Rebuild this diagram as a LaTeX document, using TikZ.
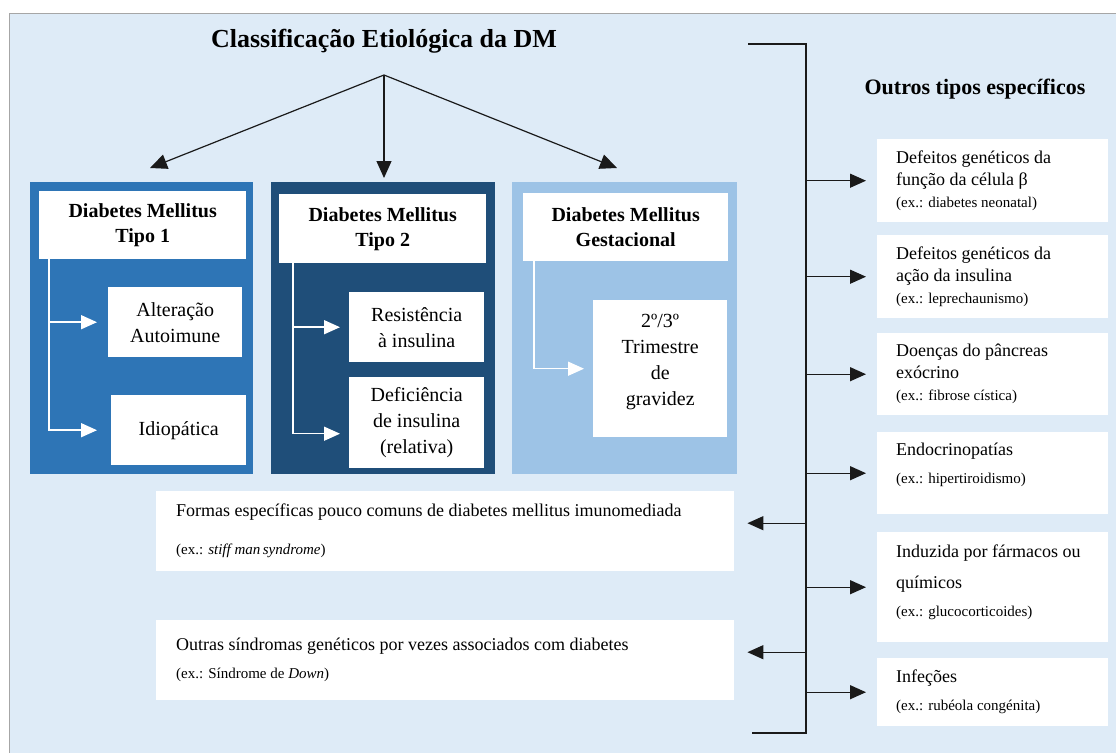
\documentclass[tikz,border=0pt]{standalone}
\usepackage{fontspec}
\setmainfont{Liberation Serif}
\usetikzlibrary{arrows.meta}

\definecolor{pagebg}{HTML}{DEEBF7}
\definecolor{frameline}{HTML}{A6A6A6}
\definecolor{typeone}{HTML}{2E75B6}
\definecolor{typetwo}{HTML}{1F4E79}
\definecolor{gestblue}{HTML}{9DC3E6}
\definecolor{ink}{HTML}{1A1A1A}

\newcommand{\txtmain}{\fontsize{18}{22}\selectfont}
\newcommand{\txtex}{\fontsize{15}{18}\selectfont}
\newcommand{\txtsub}{\fontsize{20}{26}\selectfont}
\newcommand{\txthead}{\fontsize{20}{25}\selectfont\bfseries}

\tikzset{
  panel/.style={draw=none, inner sep=0pt, anchor=north west},
  card/.style={fill=white, draw=none, inner sep=0pt, anchor=north west},
  headcard/.style={card, align=center, font=\txthead},
  subcard/.style={card, align=center, font=\txtsub},
  cardtext/.style={anchor=west, align=left, inner sep=0pt, font=\txtmain},
  blackarrow/.style={draw=ink, line width=1.3pt, -{Triangle[length=16pt,width=14pt]}},
  toparrow/.style={draw=ink, line width=1.2pt, -{Triangle[length=17pt,width=15pt]}},
  whitearrow/.style={draw=white, line width=1.5pt, -{Triangle[length=16pt,width=14pt]}},
  spine/.style={draw=ink, line width=1.3pt},
}

\begin{document}
\begin{tikzpicture}[x=1pt,y=-1pt]
\useasboundingbox (0,0) rectangle (1116,753);

% page frame
\fill[pagebg] (9,13) rectangle (1116,753);
\draw[frameline, line width=1.5pt] (1116,13.5) -- (9.5,13.5) -- (9.5,753);

% title and the three main branches
\node[font=\fontsize{26}{30}\selectfont\bfseries] (title) at (384,41) {Classificação Etiológica da DM};
\coordinate (fork) at (384,75);
\coordinate (tipA) at (150,168);
\coordinate (tipB) at (384,178);
\coordinate (tipC) at (617,168);
\draw[toparrow] (fork) -- (tipA);
\draw[toparrow] (fork) -- (tipB);
\draw[toparrow] (fork) -- (tipC);

% coloured panels
\node[panel, fill=typeone,  minimum width=223pt, minimum height=292pt] (p1) at (30,182) {};
\node[panel, fill=typetwo,  minimum width=224pt, minimum height=292pt] (p2) at (271,182) {};
\node[panel, fill=gestblue, minimum width=225pt, minimum height=292pt] (p3) at (512,182) {};

% panel headers
\node[headcard, minimum width=207pt, minimum height=68pt] (h1) at (39,191) {Diabetes Mellitus\\Tipo 1};
\node[headcard, minimum width=207pt, minimum height=69pt] (h2) at (279,194) {Diabetes Mellitus\\Tipo 2};
\node[headcard, minimum width=205pt, minimum height=68pt] (h3) at (523,193) {Diabetes Mellitus\\Gestacional};

% sub-categories
\node[subcard, minimum width=134pt, minimum height=70pt] (a1) at (108,287) {Alteração\\Autoimune};
\node[subcard, minimum width=135pt, minimum height=70pt] (a2) at (111,395) {Idiopática};
\node[subcard, minimum width=135pt, minimum height=70pt] (b1) at (349,292) {Resistência\\à insulina};
\node[subcard, minimum width=135pt, minimum height=91pt] (b2) at (349,377) {Deficiência\\de insulina\\(relativa)};
\node[card, minimum width=134pt, minimum height=137pt] (c1) at (593,300) {};
\node[align=center, font=\txtsub, inner sep=0pt] (c1t) at ([yshift=7pt]c1.center) {2º/3º\\Trimestre\\de\\gravidez};

% white connectors inside the panels
\coordinate (k1) at ([xshift=10pt]h1.south west);
\draw[whitearrow, shorten >=11pt] (k1) |- (a1.west);
\draw[whitearrow, shorten >=14pt] (k1) |- (a2.west);
\coordinate (k2) at ([xshift=14pt]h2.south west);
\coordinate (b2in) at ([yshift=-11pt]b2.west);
\draw[whitearrow, shorten >=9pt] (k2) |- (b1.west);
\draw[whitearrow, shorten >=9pt] (k2) |- (b2in);
\coordinate (k3) at ([xshift=11pt]h3.south west);
\draw[whitearrow, shorten >=9pt] (k3) |- (c1.west);

% other specific types
\node[font=\fontsize{22}{26}\selectfont\bfseries] (other) at (975,89) {Outros tipos específicos};
\coordinate (spT) at (806,44);
\coordinate (spB) at (806,733);
\coordinate (stubT) at (748,44);
\coordinate (stubB) at (752,733);
\draw[spine] (stubT) -- (spT) -- (spB) -- (stubB);

\node[card, minimum width=231pt, minimum height=83pt]  (r1) at (877,139) {};
\node[card, minimum width=231pt, minimum height=83pt]  (r2) at (877,235) {};
\node[card, minimum width=231pt, minimum height=82pt]  (r3) at (877,333) {};
\node[card, minimum width=231pt, minimum height=82pt]  (r4) at (877,432) {};
\node[card, minimum width=231pt, minimum height=110pt] (r5) at (877,532) {};
\node[card, minimum width=231pt, minimum height=68pt]  (r6) at (877,658) {};

\node[cardtext] (r1t) at ([xshift=19pt]r1.west) {Defeitos genéticos da\\função da célula β\\{\txtex (ex.: diabetes neonatal)}};
\node[cardtext] (r2t) at ([xshift=19pt]r2.west) {Defeitos genéticos da\\ação da insulina\\{\txtex (ex.: leprechaunismo)}};
\node[cardtext] (r3t) at ([xshift=19pt]r3.west) {Doenças do pâncreas\\exócrino\\{\txtex (ex.: fibrose cística)}};
\node[cardtext] (r4t) at ([xshift=19pt,yshift=8pt]r4.west) {Endocrinopatías\\[6pt]{\txtex (ex.: hipertiroidismo)}};
\node[cardtext] (r5t) at ([xshift=19pt,yshift=5pt]r5.west) {Induzida por fármacos ou\\[9pt]químicos\\[6pt]{\txtex (ex.: glucocorticoides)}};
\node[cardtext] (r6t) at ([xshift=19pt]r6.west) {Infeções\\[6pt]{\txtex (ex.: rubéola congénita)}};

\foreach \n in {r1,r2,r3,r4,r5,r6}
  \draw[blackarrow, shorten >=11pt] (spT |- \n.west) -- (\n.west);

% forms listed on the left of the spine
\node[card, minimum width=578pt, minimum height=80pt] (w1) at (156,491) {};
\node[card, minimum width=578pt, minimum height=80pt] (w2) at (156,620) {};
\node[cardtext] (w1t) at ([xshift=20pt]w1.west) {Formas específicas pouco comuns de diabetes mellitus imunomediada\\[16pt]{\txtex (ex.: \textit{stiff man\,syndrome})}};
\node[cardtext] (w2t) at ([xshift=20pt]w2.west) {Outras síndromas genéticos por vezes associados com diabetes\\[6pt]{\txtex (ex.: Síndrome de \textit{Down})}};

\coordinate (w1in) at ([yshift=8pt]w1.east);
\coordinate (w2in) at ([yshift=8pt]w2.east);
\draw[blackarrow, shorten >=13pt] (spT |- w1in) -- (w1in);
\draw[blackarrow, shorten >=13pt] (spT |- w2in) -- (w2in);
\end{tikzpicture}
\end{document}
